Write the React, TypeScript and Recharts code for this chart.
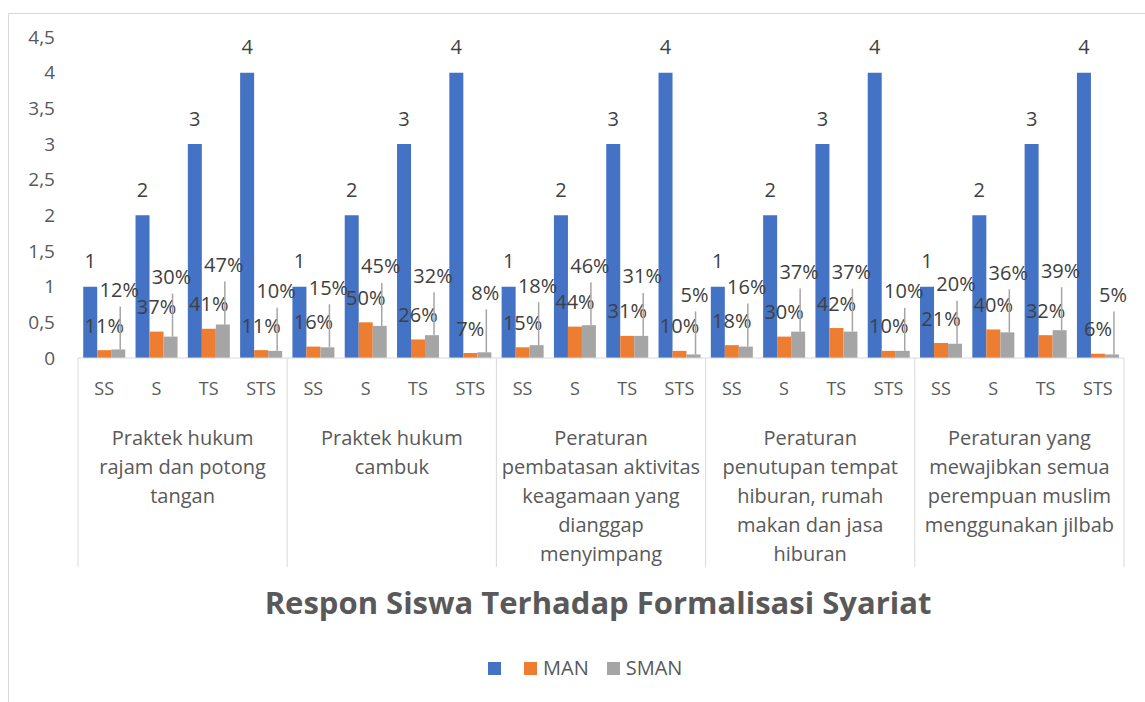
import { BarChart, Bar, XAxis, YAxis, LabelList } from 'recharts';

// category levels
const RESPONSES = ['SS', 'S', 'TS', 'STS'];
const GROUP_LABELS = [
  ['Praktek hukum', 'rajam dan potong', 'tangan'],
  ['Praktek hukum', 'cambuk'],
  ['Peraturan', 'pembatasan aktivitas', 'keagamaan yang', 'dianggap', 'menyimpang'],
  ['Peraturan', 'penutupan tempat', 'hiburan, rumah', 'makan dan jasa', 'hiburan'],
  ['Peraturan yang', 'mewajibkan semua', 'perempuan muslim', 'menggunakan jilbab'],
];

// series values
const SKALA = [1, 2, 3, 4, 1, 2, 3, 4, 1, 2, 3, 4, 1, 2, 3, 4, 1, 2, 3, 4];
const MAN = [0.11, 0.37, 0.41, 0.11, 0.16, 0.5, 0.26, 0.07, 0.15, 0.44, 0.31, 0.1, 0.18, 0.3, 0.42, 0.1, 0.21, 0.4, 0.32, 0.06];
const SMAN = [0.12, 0.3, 0.47, 0.1, 0.15, 0.45, 0.32, 0.08, 0.18, 0.46, 0.31, 0.05, 0.16, 0.37, 0.37, 0.1, 0.2, 0.36, 0.39, 0.05];

const Y_TICKS = [0, 0.5, 1, 1.5, 2, 2.5, 3, 3.5, 4, 4.5];

const data = GROUP_LABELS.flatMap((_, gi) =>
  RESPONSES.map((r, ri) => {
    const i = gi * 4 + ri;
    return { key: `${gi}-${r}`, skala: SKALA[i], MAN: MAN[i], SMAN: SMAN[i] };
  })
);

const W = 1145;
const H = 702;
const FONT = "'Open Sans', sans-serif";
const PLOT_LEFT = 78;
const PLOT_RIGHT = 1124;
const PLOT_TOP = 37;
const PLOT_BOTTOM = 358;
const X_AXIS_H = 212;
const BAND = (PLOT_RIGHT - PLOT_LEFT) / data.length;
const SUB_Y = 388;
const GROUP_Y = 437;
const GROUP_LH = 29;
const SEP_BOTTOM = 567;
const LABEL_COLOR = '#404040';
const AXIS_COLOR = '#595959';
const LABEL_SIZE = 20;

const CategoryTick = (props: any) => {
  const { x, payload } = props;
  const i: number = props.index ?? payload.index;
  const gi = Math.floor(i / 4);
  const half = BAND / 2;
  return (
    <g>
      <text x={x} y={SUB_Y} textAnchor="middle" dominantBaseline="central" fontSize={18} fill={AXIS_COLOR} fontFamily={FONT}>
        {RESPONSES[i % 4]}
      </text>
      {i % 4 === 0 && (
        <line x1={x - half} x2={x - half} y1={PLOT_BOTTOM} y2={SEP_BOTTOM} stroke="#d9d9d9" />
      )}
      {i === data.length - 1 && (
        <line x1={x + half} x2={x + half} y1={PLOT_BOTTOM} y2={SEP_BOTTOM} stroke="#d9d9d9" />
      )}
      {i % 4 === 1 &&
        GROUP_LABELS[gi].map((line, li) => (
          <text
            key={li}
            x={x + half}
            y={GROUP_Y + li * GROUP_LH}
            textAnchor="middle"
            dominantBaseline="central"
            fontSize={20}
            fill={AXIS_COLOR}
            fontFamily={FONT}
          >
            {line}
          </text>
        ))}
    </g>
  );
};

const BlueLabel = (props: any) => {
  const { x, y, width, value } = props;
  return (
    <text x={x + width / 2} y={y - 26} textAnchor="middle" dominantBaseline="central" fontSize={LABEL_SIZE} fill={LABEL_COLOR} fontFamily={FONT}>
      {value}
    </text>
  );
};

const ManLabel = (props: any) => {
  const { x, y, width, value } = props;
  return (
    <text x={x + width / 2} y={y - 25} textAnchor="middle" dominantBaseline="central" fontSize={LABEL_SIZE} fill={LABEL_COLOR} fontFamily={FONT}>
      {Math.round(value * 100)}%
    </text>
  );
};

const SmanLabel = (props: any) => {
  const { x, y, width, value } = props;
  const cx = x + width / 2;
  const ly = y - 60;
  return (
    <g>
      <line x1={cx + 2} x2={cx + 2} y1={y} y2={ly + 17} stroke="#a5a5a5" strokeWidth={1.5} />
      <text x={cx + 1} y={ly} textAnchor="middle" dominantBaseline="central" fontSize={LABEL_SIZE} fill={LABEL_COLOR} fontFamily={FONT}>
        {Math.round(value * 100)}%
      </text>
    </g>
  );
};

const LegendItem = ({ color, label, gap }: { color: string; label: string; gap: number }) => (
  <div style={{ display: 'flex', alignItems: 'center', marginRight: gap }}>
    <div style={{ width: 13, height: 13, background: color }} />
    {label && <span style={{ marginLeft: 6, fontSize: 20, color: AXIS_COLOR, fontFamily: FONT, lineHeight: '24px' }}>{label}</span>}
  </div>
);

export default function App() {
  return (
    <div style={{ position: 'absolute', left: 0, top: 0, width: W, height: H, background: '#fff', overflow: 'hidden' }}>
      <div style={{ position: 'absolute', left: 8, top: 13, width: W, height: H, border: '1px solid #d9d9d9', boxSizing: 'border-box' }} />
      <div style={{ position: 'absolute', left: 0, top: 0 }}>
        <BarChart
          width={W}
          height={H}
          data={data}
          margin={{ top: PLOT_TOP, right: W - PLOT_RIGHT, left: 0, bottom: H - PLOT_BOTTOM - X_AXIS_H }}
          barCategoryGap="10%"
          barGap={0}
        >
          <XAxis
            dataKey="key"
            height={X_AXIS_H}
            interval={0}
            tickLine={false}
            axisLine={{ stroke: '#d9d9d9' }}
            tick={<CategoryTick />}
          />
          <YAxis
            type="number"
            domain={[0, 4.5]}
            ticks={Y_TICKS}
            width={PLOT_LEFT}
            axisLine={false}
            tickLine={false}
            tickSize={0}
            tickMargin={23}
            tickFormatter={(v: number) => String(v).replace('.', ',')}
            tick={{ fontSize: 19, fill: AXIS_COLOR, fontFamily: FONT }}
          />
          <Bar dataKey="skala" name="" fill="#4472C4" isAnimationActive={false}>
            <LabelList dataKey="skala" content={<BlueLabel />} />
          </Bar>
          <Bar dataKey="MAN" name="MAN" fill="#ED7D31" isAnimationActive={false}>
            <LabelList dataKey="MAN" content={<ManLabel />} />
          </Bar>
          <Bar dataKey="SMAN" name="SMAN" fill="#A5A5A5" isAnimationActive={false}>
            <LabelList dataKey="SMAN" content={<SmanLabel />} />
          </Bar>
        </BarChart>
      </div>
      <div
        style={{
          position: 'absolute',
          left: 198,
          width: 800,
          top: 582,
          textAlign: 'center',
          fontFamily: FONT,
          fontWeight: 700,
          fontSize: 31,
          color: AXIS_COLOR,
          lineHeight: '40px',
          whiteSpace: 'nowrap',
        }}
      >
        Respon Siswa Terhadap Formalisasi Syariat
      </div>
      <div style={{ position: 'absolute', left: 488, top: 656, display: 'flex', alignItems: 'center' }}>
        <LegendItem color="#4472C4" label="" gap={23} />
        <LegendItem color="#ED7D31" label="MAN" gap={18} />
        <LegendItem color="#A5A5A5" label="SMAN" gap={0} />
      </div>
    </div>
  );
}
